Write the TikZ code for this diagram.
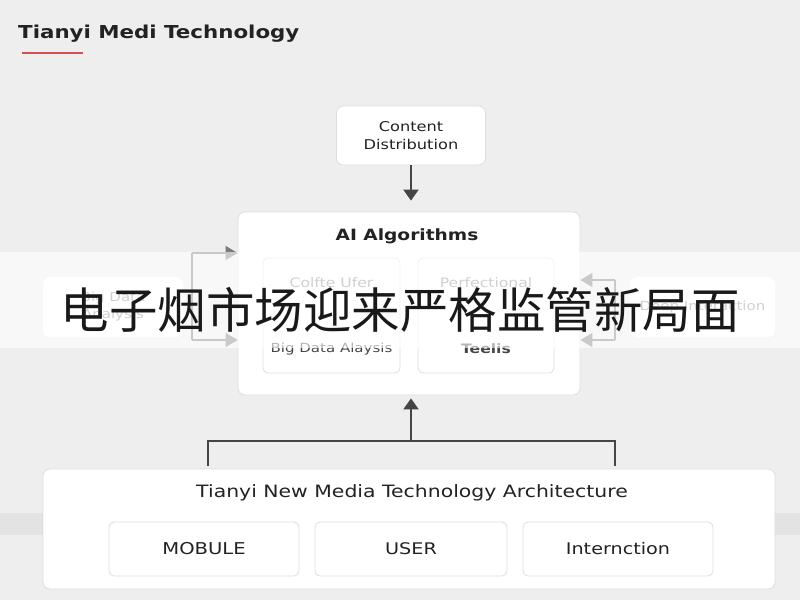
\documentclass[tikz,border=0pt]{standalone}
\usepackage{fontspec}
\setmainfont{DejaVu Sans}[FakeStretch=1.2]
\newfontfamily\cjk{Noto Sans CJK SC}
\usetikzlibrary{arrows.meta}
\definecolor{bgc}{HTML}{EEEEEE}
\definecolor{bandc}{HTML}{E3E3E3}
\definecolor{boxline}{HTML}{DDDDDD}
\definecolor{darkc}{HTML}{454545}
\definecolor{sidec}{HTML}{7A7A7A}
\definecolor{redc}{HTML}{D45050}
\definecolor{txt}{HTML}{222222}
\definecolor{softtxt}{HTML}{8A8A8A}
\begin{document}
\begin{tikzpicture}[x=1pt,y=-1pt,
  box/.style={draw=boxline, line width=0.8pt, fill=white, rounded corners=7pt, inner sep=0pt, text=txt},
  innerbox/.style={draw=boxline, line width=0.8pt, fill=white, rounded corners=5pt, inner sep=0pt},
  conn/.style={draw=darkc, line width=2pt},
  tipd/.style={-{Triangle[length=11pt,width=15pt]}},
  side/.style={draw=sidec, line width=1.4pt},
  tips/.style={-{Triangle[length=12pt,width=14pt]}},
  lbl/.style={inner sep=0pt, text=txt},
]
\useasboundingbox (0,0) rectangle (800,600);
\fill[bgc] (0,0) rectangle (800,600);
\fill[bandc] (0,513) rectangle (800,535);

% title
\node[lbl, anchor=base west, font=\fontsize{17.8}{20}\selectfont\bfseries] (title) at (18,38) {Tianyi Medi Technology};
\coordinate (ul1) at (22,53); \coordinate (ul2) at (83,53);
\draw[draw=redc, line width=2pt] (ul1) -- (ul2);

% content distribution
\node[box, minimum width=149pt, minimum height=59pt, align=center,
      font=\fontsize{13.5}{18}\selectfont] (content) at (411,135.5) {Content\\Distribution};

% AI algorithms
\node[box, minimum width=342pt, minimum height=183pt] (ai) at (409,303.5) {};
\node[lbl, font=\fontsize{15.5}{18}\selectfont\bfseries] (aititle) at (407,236) {AI Algorithms};
\node[innerbox, minimum width=137pt, minimum height=115pt] (ail) at (331.5,315.5) {};
\node[innerbox, minimum width=136pt, minimum height=115pt] (air) at (486,315.5) {};
\node[lbl, text=softtxt, font=\fontsize{13}{15}\selectfont] (ailt) at (331.5,283) {Colfte Ufer};
\node[lbl, text=darkc, font=\fontsize{12.5}{15}\selectfont] (ailb) at (331.5,349) {Big Data Alaysis};
\node[lbl, text=softtxt, font=\fontsize{13}{15}\selectfont] (airt) at (486,283) {Perfectional};
\node[lbl, text=darkc, font=\fontsize{13}{15}\selectfont\bfseries] (airb) at (486,349) {Teelis};

% side boxes
\node[box, draw=none, minimum width=140pt, minimum height=60pt, align=center, text=softtxt,
      font=\fontsize{12.5}{17}\selectfont] (leftbox) at (113,307) {Big Data\\Analysis};
\node[box, draw=none, minimum width=145pt, minimum height=60pt, text=softtxt,
      font=\fontsize{12.5}{17}\selectfont] (rightbox) at (702.5,307) {Deep Interaction};

% side arrows
\coordinate (lv1) at (192,253); \coordinate (lv2) at (192,340);
\draw[side] (lv1) -- (lv2);
\draw[side, tips] (lv1) -- (lv1 -| ai.west);
\draw[side, tips] (lv2) -- (lv2 -| ai.west);
\coordinate (rv1) at (615,280); \coordinate (rv2) at (615,340);
\draw[side] (rv1) -- (rv2);
\draw[side, tips] (rv1) -- (rv1 -| ai.east);
\draw[side, tips] (rv2) -- (rv2 -| ai.east);

% bottom architecture
\node[box, minimum width=732pt, minimum height=120pt] (bottom) at (409,529) {};
\node[lbl, font=\fontsize{17}{20}\selectfont] (btitle) at (412,493) {Tianyi New Media Technology Architecture};
\node[innerbox, minimum width=190pt, minimum height=54pt, font=\fontsize{16.3}{18}\selectfont, text=txt] (mob) at (204,549) {MOBULE};
\node[innerbox, minimum width=192pt, minimum height=54pt, font=\fontsize{16}{18}\selectfont, text=txt] (user) at (411,549) {USER};
\node[innerbox, minimum width=190pt, minimum height=54pt, font=\fontsize{16}{18}\selectfont, text=txt] (inter) at (618,549) {Internction};

% connectors
\draw[conn, tipd, shorten >=11pt] (content.south) -- (content.south |- ai.north);
\coordinate (bj) at (411,441);
\coordinate (bl) at (208,441); \coordinate (br) at (615,441);
\coordinate (bl0) at (208,466); \coordinate (br0) at (615,466);
\draw[conn] (bl0) -- (bl) -- (br) -- (br0);
\draw[conn, tipd, shorten >=3pt] (bj) -- (bj |- ai.south);

% overlay band with headline
\fill[white, opacity=0.6] (0,252) rectangle (800,348);
\node[inner sep=0pt, text=black!90, font=\cjk\fontsize{48.5}{52}\selectfont] (headline) at (400,310) {电子烟市场迎来严格监管新局面};
\end{tikzpicture}
\end{document}
